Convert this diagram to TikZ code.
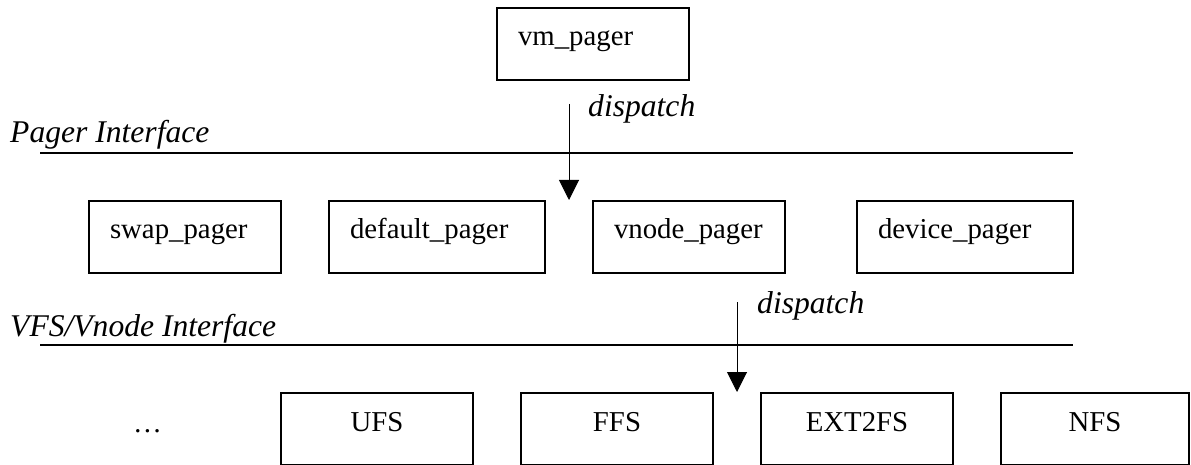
\documentclass[tikz,border=0pt]{standalone}
\usepackage{fontspec}
\setmainfont{Liberation Serif}
\usetikzlibrary{arrows.meta}
\begin{document}
\begin{tikzpicture}[x=1pt,y=-1pt,
  box/.style={draw, line width=1.5pt, outer sep=0pt, inner xsep=21pt, inner ysep=0pt,
    text height=21pt, text depth=17pt, minimum height=72pt, anchor=north west,
    font=\fontsize{28.8}{34}\selectfont},
  lbox/.style={box, align=left, text width=#1},
  cbox/.style={box, align=center, text width=#1},
  iface/.style={line width=2pt},
  call/.style={line width=1pt, -{Triangle[width=20pt,length=20pt]}},
  tag/.style={font=\fontsize{31.6}{38}\selectfont\itshape, inner sep=0pt, anchor=base west}
]
\useasboundingbox (0,0) rectangle (1191,465);

% top: the generic pager layer
\node[lbox=150pt] (vm) at (497,8) {vm\_pager};

% pager interface
\node[tag] (pagerif) at (10,143) {Pager Interface};
\coordinate (pl) at (40,153);
\coordinate (pr) at (1073,153);
\draw[iface] (pl) -- (pr);

\coordinate (c1s) at (569,104);
\coordinate (c1e) at (569,200);
\draw[call] (c1s) -- (c1e);
\node[tag] (disp1) at (588,117) {dispatch};

% pager implementations
\node[lbox=150pt] (swap)    at (89,201)  {swap\_pager};
\node[lbox=174pt] (default) at (329,201) {default\_pager};
\node[lbox=150pt] (vnode)   at (593,201) {vnode\_pager};
\node[lbox=174pt] (device)  at (857,201) {device\_pager};

% VFS/vnode interface
\node[tag] (vfsif) at (10,336) {VFS/Vnode Interface};
\coordinate (vl) at (40,345);
\coordinate (vr) at (1073,345);
\draw[iface] (vl) -- (vr);

\coordinate (c2s) at (737,302);
\coordinate (c2e) at (737,392);
\draw[call] (c2s) -- (c2e);
\node[tag] (disp2) at (757,313) {dispatch};

% file systems
\node[anchor=base west, inner sep=0pt, font=\fontsize{28.8}{34}\selectfont] (more) at (133,432) {…};
\node[cbox=150pt] (ufs)  at (281,393)  {UFS};
\node[cbox=150pt] (ffs)  at (521,393)  {FFS};
\node[cbox=150pt] (ext2) at (761,393)  {EXT2FS};
\node[cbox=146pt] (nfs)  at (1001,393) {NFS};
\end{tikzpicture}
\end{document}
